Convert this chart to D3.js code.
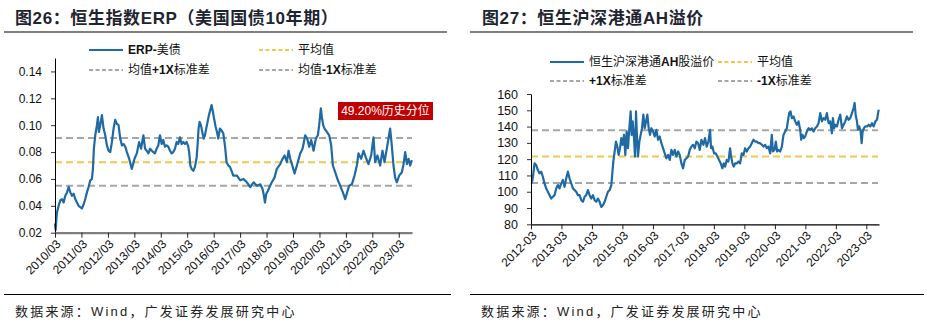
<!DOCTYPE html>
<html><head><meta charset="utf-8">
<script src="https://cdn.jsdelivr.net/npm/d3@7"></script>
<style>
html,body{margin:0;padding:0;background:#fff;}
svg{display:block;font-family:"Liberation Sans","Noto Sans CJK SC",sans-serif;}
</style></head>
<body><svg id="c" width="927" height="329"></svg>
<script>
// ---------- data ----------
const erpSeries = [
["2010-03-01",0.027],["2010-03-10",0.022],["2010-03-20",0.030],["2010-03-28",0.035],["2010-04-20",0.040],["2010-05-13",0.044],
["2010-06-05",0.045],["2010-06-28",0.0425],["2010-07-21",0.0475],["2010-08-14",0.050],["2010-09-06",0.054],["2010-09-29",0.050],
["2010-10-21",0.0475],["2010-11-14",0.049],["2010-12-06",0.045],["2010-12-29",0.0425],["2011-01-21",0.040],["2011-02-13",0.039],
["2011-03-08",0.038],["2011-03-31",0.041],["2011-04-23",0.045],["2011-05-16",0.050],["2011-06-08",0.054],["2011-07-01",0.059],
["2011-07-24",0.060],["2011-08-07",0.0675],["2011-08-20",0.0825],["2011-09-08",0.0925],["2011-10-01",0.100],["2011-10-15",0.106],
["2011-10-28",0.095],["2011-11-16",0.100],["2011-12-09",0.1075],["2012-01-01",0.0975],["2012-01-24",0.0925],["2012-02-16",0.085],
["2012-03-10",0.081],["2012-04-02",0.080],["2012-04-25",0.0875],["2012-05-18",0.0975],["2012-06-10",0.104],["2012-07-03",0.101],
["2012-07-26",0.100],["2012-08-18",0.090],["2012-09-10",0.085],["2012-10-03",0.086],["2012-10-26",0.084],["2012-11-18",0.080],
["2012-12-20",0.075],["2013-01-07",0.071],["2013-01-25",0.0675],["2013-02-12",0.071],["2013-03-03",0.075],["2013-04-04",0.079],
["2013-05-06",0.0875],["2013-06-02",0.0825],["2013-07-04",0.0925],["2013-07-27",0.0825],["2013-08-19",0.081],["2013-09-11",0.079],
["2013-10-04",0.0825],["2013-10-26",0.081],["2013-11-18",0.080],["2013-12-11",0.079],["2014-01-03",0.0825],["2014-01-26",0.085],
["2014-02-18",0.0925],["2014-03-13",0.086],["2014-04-05",0.089],["2014-04-28",0.084],["2014-05-21",0.085],["2014-06-13",0.084],
["2014-07-06",0.081],["2014-07-29",0.079],["2014-08-21",0.080],["2014-09-13",0.0825],["2014-10-06",0.0875],["2014-10-29",0.086],
["2014-11-21",0.091],["2014-12-14",0.086],["2015-01-06",0.0875],["2015-01-29",0.086],["2015-02-21",0.0875],["2015-03-16",0.084],
["2015-03-30",0.079],["2015-04-13",0.070],["2015-05-01",0.0675],["2015-05-24",0.066],["2015-06-16",0.069],["2015-07-09",0.076],
["2015-07-22",0.085],["2015-08-05",0.0975],["2015-08-19",0.1025],["2015-09-07",0.100],["2015-09-25",0.095],["2015-10-14",0.090],
["2015-11-01",0.0925],["2015-11-19",0.0975],["2015-12-08",0.1025],["2015-12-26",0.1075],["2016-01-13",0.111],["2016-02-01",0.115],
["2016-02-19",0.110],["2016-03-09",0.104],["2016-03-27",0.099],["2016-04-15",0.095],["2016-05-03",0.090],["2016-05-26",0.0975],
["2016-06-18",0.096],["2016-07-11",0.094],["2016-08-03",0.085],["2016-08-26",0.0725],["2016-09-18",0.070],["2016-10-11",0.069],
["2016-11-03",0.066],["2016-11-26",0.0625],["2017-01-16",0.0625],["2017-03-03",0.059],["2017-04-17",0.060],["2017-06-02",0.0575],
["2017-07-19",0.054],["2017-09-03",0.0575],["2017-10-19",0.055],["2017-12-04",0.056],["2018-01-05",0.0525],["2018-01-24",0.0475],
["2018-02-07",0.0425],["2018-02-25",0.049],["2018-03-19",0.051],["2018-04-11",0.054],["2018-05-13",0.0575],["2018-06-19",0.061],
["2018-07-21",0.0675],["2018-09-06",0.071],["2018-09-29",0.074],["2018-11-05",0.0775],["2018-12-07",0.0725],["2018-12-30",0.081],
["2019-01-22",0.075],["2019-02-14",0.071],["2019-03-23",0.064],["2019-04-24",0.070],["2019-06-09",0.079],["2019-07-11",0.0825],
["2019-07-30",0.0875],["2019-08-17",0.0925],["2019-09-14",0.090],["2019-10-11",0.084],["2019-11-08",0.089],["2019-12-10",0.081],
["2020-01-11",0.090],["2020-02-08",0.0925],["2020-02-26",0.100],["2020-03-20",0.1125],["2020-04-03",0.106],["2020-04-21",0.100],
["2020-05-10",0.0975],["2020-06-11",0.095],["2020-07-13",0.0925],["2020-08-10",0.085],["2020-09-02",0.070],["2020-10-04",0.065],
["2020-11-10",0.059],["2020-12-12",0.055],["2021-01-18",0.050],["2021-02-19",0.045],["2021-03-18",0.050],["2021-04-15",0.055],
["2021-05-22",0.056],["2021-06-28",0.0625],["2021-07-30",0.070],["2021-08-22",0.079],["2021-09-28",0.075],["2021-10-30",0.081],
["2021-12-01",0.076],["2022-01-07",0.071],["2022-02-13",0.0775],["2022-03-17",0.091],["2022-04-09",0.0725],["2022-05-11",0.0775],
["2022-06-17",0.070],["2022-07-19",0.081],["2022-08-16",0.0725],["2022-09-17",0.0825],["2022-10-10",0.090],["2022-11-02",0.0975],
["2022-11-25",0.085],["2022-12-18",0.070],["2023-01-10",0.061],["2023-02-02",0.0575],["2023-03-07",0.0625],["2023-04-13",0.065],
["2023-05-06",0.071],["2023-05-29",0.080],["2023-06-21",0.071],["2023-07-14",0.075],["2023-08-06",0.070],["2023-08-29",0.074]
];
const erpMean = 0.0725, erpPlus1 = 0.0905, erpMinus1 = 0.055;
const erpPercentileLabel = "49.20%历史分位";

const ahSeries = [
["2012-03-11",105.1],["2012-03-27",110.2],["2012-04-12",117.4],["2012-05-02",116.4],["2012-05-22",113.3],["2012-06-11",111.3],
["2012-07-01",112.3],["2012-07-21",109.2],["2012-08-10",105.1],["2012-08-30",102],["2012-09-19",100],["2012-10-09",97.9],
["2012-10-29",95.8],["2012-11-18",96.9],["2012-12-08",97.9],["2012-12-28",102],["2013-01-17",104.1],["2013-02-06",102],
["2013-02-26",105.1],["2013-03-18",107.2],["2013-04-07",103],["2013-04-27",108.2],["2013-05-17",112.3],["2013-06-06",108.2],
["2013-06-26",105.1],["2013-07-16",102],["2013-08-05",101],["2013-08-25",100],["2013-09-14",97.9],["2013-10-04",97.9],
["2013-10-24",94.8],["2013-11-13",93.8],["2013-12-03",96.9],["2013-12-23",97.9],["2014-01-12",101],["2014-02-01",97.9],
["2014-02-21",95.8],["2014-03-13",97.9],["2014-04-02",94.8],["2014-04-22",93.8],["2014-05-12",95.8],["2014-06-01",93.8],
["2014-06-21",90.7],["2014-07-11",91.7],["2014-07-31",93.8],["2014-08-20",96.9],["2014-09-09",100],["2014-09-29",101],
["2014-10-19",104.1],["2014-10-31",111.3],["2014-11-12",118.5],["2014-11-28",124.7],["2014-12-14",130.8],["2014-12-30",127.7],
["2015-01-15",122.6],["2015-01-31",126.7],["2015-02-16",132.9],["2015-03-04",128.8],["2015-03-20",134.9],["2015-04-05",122.6],
["2015-04-21",137],["2015-05-07",126.7],["2015-05-23",139],["2015-06-08",149.3],["2015-06-20",134.9],["2015-07-02",143.2],
["2015-07-18",132.9],["2015-07-30",121.6],["2015-08-11",149.3],["2015-08-23",132.9],["2015-09-04",121.6],["2015-09-20",130.8],
["2015-10-06",134.9],["2015-10-22",139],["2015-11-07",147.3],["2015-11-23",139],["2015-12-09",143.2],["2015-12-25",147.3],
["2016-01-10",139],["2016-01-26",134.9],["2016-02-11",139],["2016-03-02",137],["2016-03-22",133.9],["2016-04-11",138],
["2016-05-01",131.9],["2016-05-21",133.9],["2016-06-10",129.8],["2016-06-30",126.7],["2016-07-20",123.6],["2016-08-09",120.5],
["2016-08-29",122.6],["2016-09-18",119.5],["2016-10-08",125.7],["2016-10-28",122.6],["2016-11-17",125.7],["2016-12-07",121.6],
["2016-12-27",124.7],["2017-01-16",122.6],["2017-02-05",117.4],["2017-02-25",114.4],["2017-03-17",119.5],["2017-04-06",120.5],
["2017-04-26",121.6],["2017-05-16",125.7],["2017-06-05",127.7],["2017-06-25",128.8],["2017-07-15",126.7],["2017-08-04",130.8],
["2017-08-24",129.8],["2017-09-13",125.7],["2017-10-03",131.9],["2017-10-26",128.8],["2017-11-15",132.9],["2017-12-05",127.7],
["2017-12-25",130.8],["2018-01-14",138],["2018-01-26",126.7],["2018-02-11",127.7],["2018-03-03",123.6],["2018-03-23",123.6],
["2018-04-12",121.6],["2018-05-02",119.5],["2018-05-22",117.4],["2018-06-11",114.4],["2018-06-27",117.4],["2018-07-13",115.4],
["2018-08-02",119.5],["2018-08-22",118.5],["2018-09-11",126.7],["2018-09-23",121.6],["2018-10-09",117.4],["2018-10-25",115.4],
["2018-11-10",117.4],["2018-11-30",117.4],["2018-12-20",118.5],["2019-01-09",117.4],["2019-01-29",123.6],["2019-02-18",122.6],
["2019-03-10",126.7],["2019-03-30",124.7],["2019-04-19",126.7],["2019-05-09",127.7],["2019-05-29",129.8],["2019-06-18",131.9],
["2019-07-08",130.8],["2019-07-28",130.8],["2019-08-17",129.8],["2019-09-06",129.8],["2019-09-26",128.8],["2019-10-16",127.7],
["2019-11-05",128.8],["2019-11-25",126.7],["2019-12-15",127.7],["2020-01-04",123.6],["2020-01-24",134.9],["2020-02-05",124.7],
["2020-02-25",125.7],["2020-03-12",130.8],["2020-03-28",124.7],["2020-04-13",125.7],["2020-05-03",124.7],["2020-05-23",127.7],
["2020-06-12",134.9],["2020-07-02",137],["2020-07-22",139],["2020-08-03",143.2],["2020-08-19",148.3],["2020-09-04",149.3],
["2020-09-20",145.2],["2020-10-10",146.2],["2020-10-30",143.2],["2020-11-19",141.1],["2020-12-09",143.2],["2020-12-29",138],
["2021-01-10",131.9],["2021-01-26",134.9],["2021-02-11",132.9],["2021-02-27",133.9],["2021-03-19",137],["2021-04-08",139],
["2021-04-28",138],["2021-05-18",139],["2021-06-07",137],["2021-06-27",139],["2021-07-17",140.1],["2021-08-06",142.1],
["2021-08-26",148.3],["2021-09-15",143.2],["2021-10-05",145.2],["2021-10-25",144.2],["2021-11-14",148.3],["2021-12-04",142.1],
["2021-12-24",143.2],["2022-01-13",135.9],["2022-01-25",145.2],["2022-02-10",139],["2022-02-22",141.1],["2022-03-14",140.1],
["2022-04-03",144.2],["2022-04-23",147.3],["2022-05-13",139],["2022-06-02",141.1],["2022-06-22",143.2],["2022-07-12",146.2],
["2022-08-01",144.2],["2022-08-21",145.2],["2022-09-10",148.3],["2022-09-30",151.4],["2022-10-12",154.5],["2022-10-24",147.3],
["2022-11-09",143.2],["2022-11-21",138],["2022-12-07",140.1],["2022-12-23",137],["2023-01-04",129.8],["2023-01-16",137],
["2023-02-01",139],["2023-02-17",140.1],["2023-03-09",140.1],["2023-03-29",141.1],["2023-04-18",140.1],["2023-05-08",142.1],
["2023-05-28",140.1],["2023-06-17",143.2],["2023-07-07",144.2],["2023-07-27",150.4]
];
const ahMean = 121.6, ahPlus1 = 137.8, ahMinus1 = 105.4;

const erpYTicks = [0.02,0.04,0.06,0.08,0.10,0.12,0.14];
const ahYTicks = [80,90,100,110,120,130,140,150,160];
const erpXTickYears = [2010,2011,2012,2013,2014,2015,2016,2017,2018,2019,2020,2021,2022,2023];
const ahXTickYears = [2012,2013,2014,2015,2016,2017,2018,2019,2020,2021,2022,2023];

const titleLeft = "图26：恒生指数ERP（美国国债10年期）";
const titleRight = "图27：恒生沪深港通AH溢价";
const sourceText = "数据来源：Wind，广发证券发展研究中心";

// ---------- drawing ----------
const parse = d3.timeParse("%Y-%m-%d");
const svg = d3.select("#c");
const BLUE = "#1f6aa5", GOLD = "#efc94c", GREY = "#a6a6a6";

function legendItem(g, x, y, color, dashed, parts) {
  g.append("line").attr("x1", x).attr("x2", x + 34).attr("y1", y).attr("y2", y)
    .attr("stroke", color).attr("stroke-width", 2)
    .attr("stroke-dasharray", dashed ? "4,2.5" : null);
  const t = g.append("text").attr("x", x + 39).attr("y", y).attr("dy", "0.35em")
    .attr("font-size", 12).attr("fill", "#111");
  parts.forEach(p => t.append("tspan").attr("font-weight", p[1] ? "bold" : "normal").text(p[0]));
}

function panel(cfg) {
  const g = svg.append("g");
  // title
  g.append("text").attr("x", cfg.titleX).attr("y", 18).attr("dy", "0.35em")
    .attr("font-size", 17).attr("font-weight", "bold").attr("letter-spacing", 0.6)
    .attr("fill", "#1e2430").text(cfg.title);
  g.append("line").attr("x1", cfg.ruleX0).attr("x2", cfg.ruleX1).attr("y1", 32).attr("y2", 32)
    .attr("stroke", "#000").attr("stroke-width", 1.2);
  // footer
  g.append("line").attr("x1", cfg.ruleX0).attr("x2", cfg.footX1).attr("y1", 294.5).attr("y2", 294.5)
    .attr("stroke", "#000").attr("stroke-width", 1.2);
  g.append("text").attr("x", cfg.footX).attr("y", 311).attr("dy", "0.35em")
    .attr("font-size", 13).attr("letter-spacing", 2.2).attr("fill", "#222").text(sourceText);

  const x = d3.scaleTime().domain(cfg.xDomain).range(cfg.xRange);
  const y = d3.scaleLinear().domain(cfg.yDomain).range(cfg.yRange);

  // reference lines
  [[cfg.plus, GREY], [cfg.minus, GREY], [cfg.mean, GOLD]].forEach(([v, c]) => {
    g.append("line").attr("x1", cfg.xRange[0]).attr("x2", cfg.refEnd)
      .attr("y1", y(v)).attr("y2", y(v)).attr("stroke", c).attr("stroke-width", 2)
      .attr("stroke-dasharray", "7,4");
  });

  // series
  const line = d3.line().x(d => x(parse(d[0]))).y(d => y(d[1]));
  g.append("path").datum(cfg.series).attr("d", line).attr("fill", "none")
    .attr("stroke", BLUE).attr("stroke-width", 2.2).attr("stroke-linejoin", "round");

  // y axis
  const ya = g.append("g").attr("transform", `translate(${cfg.xRange[0]},0)`)
    .call(d3.axisLeft(y).tickValues(cfg.yTicks).tickFormat(cfg.yFmt).tickSize(4).tickPadding(9).tickSizeOuter(0));
  ya.select(".domain").attr("stroke", "#000");
  ya.selectAll("text").attr("font-size", cfg.yFont).attr("fill", "#111").attr("font-family", "Liberation Sans, sans-serif");
  ya.selectAll(".tick line").attr("stroke", "#333");

  // x axis
  const xa = g.append("g").attr("transform", `translate(0,${cfg.yRange[0]})`)
    .call(d3.axisBottom(x).tickValues(cfg.xTickYears.map(yr => new Date(yr, 2, 1)))
      .tickFormat(d3.timeFormat(cfg.xFmt)).tickSize(5).tickSizeOuter(0));
  xa.select(".domain").attr("stroke", cfg.xAxisColor).attr("stroke-width", cfg.xAxisWidth);
  xa.selectAll(".tick line").attr("stroke", "#222");
  xa.selectAll("text").attr("font-size", 12).attr("fill", "#111").attr("font-family", "Liberation Sans, sans-serif")
    .attr("text-anchor", "end").attr("x", 0).attr("y", 0).attr("dy", "0.35em")
    .attr("transform", "translate(3,9) rotate(-45)");

  // legend
  const lg = g.append("g");
  cfg.legend.forEach(it => legendItem(lg, it.x, it.y, it.color, it.dashed, it.parts));
  return {g, x, y};
}

const L = panel({
  title: titleLeft, titleX: 15, ruleX0: 4, ruleX1: 447, footX1: 451, footX: 15,
  xDomain: [new Date(2010, 2, 1), new Date(2023, 7, 31)], xRange: [55, 412],
  yDomain: [0.02, 0.15], yRange: [232.7, 58], yTicks: erpYTicks, yFmt: d3.format(".2f"), yFont: 12,
  xTickYears: erpXTickYears, xFmt: "%Y/%m", xAxisColor: "#7f7f7f", xAxisWidth: 2.2, refEnd: 412,
  series: erpSeries, mean: erpMean, plus: erpPlus1, minus: erpMinus1,
  legend: [
    {x: 89, y: 50, color: BLUE, dashed: false, parts: [["ERP-", true], ["美债", false]]},
    {x: 259, y: 50, color: GOLD, dashed: true, parts: [["平均值", false]]},
    {x: 89, y: 70, color: GREY, dashed: true, parts: [["均值", false], ["+1X", true], ["标准差", false]]},
    {x: 259, y: 70, color: GREY, dashed: true, parts: [["均值", false], ["-1X", true], ["标准差", false]]}
  ]
});
// percentile annotation
L.g.append("rect").attr("x", 338).attr("y", 102).attr("width", 95).attr("height", 18).attr("fill", "#c00000");
L.g.append("text").attr("x", 385.5).attr("y", 111).attr("dy", "0.35em").attr("text-anchor", "middle")
  .attr("font-size", 12).attr("fill", "#fff").text(erpPercentileLabel);

panel({
  title: titleRight, titleX: 482, ruleX0: 470, ruleX1: 913, footX1: 924, footX: 481,
  xDomain: [new Date(2012, 2, 1), new Date(2023, 6, 31)], xRange: [531, 879],
  yDomain: [80, 160], yRange: [224.3, 94], yTicks: ahYTicks, yFmt: d3.format("d"), yFont: 12.5,
  xTickYears: ahXTickYears, xFmt: "%Y-%m", xAxisColor: "#000", xAxisWidth: 1.2, refEnd: 878,
  series: ahSeries, mean: ahMean, plus: ahPlus1, minus: ahMinus1,
  legend: [
    {x: 550, y: 62, color: BLUE, dashed: false, parts: [["恒生沪深港通", false], ["AH", true], ["股溢价", false]]},
    {x: 718, y: 62, color: GOLD, dashed: true, parts: [["平均值", false]]},
    {x: 550, y: 81, color: GREY, dashed: true, parts: [["+1X", true], ["标准差", false]]},
    {x: 718, y: 81, color: GREY, dashed: true, parts: [["-1X", true], ["标准差", false]]}
  ]
});
</script></body></html>
